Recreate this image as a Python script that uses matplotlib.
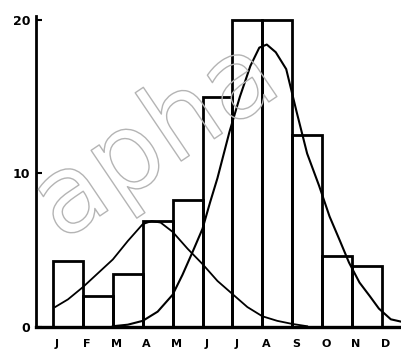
import matplotlib.pyplot as plt
import matplotlib.patheffects as pe

months = ['J', 'F', 'M', 'A', 'M', 'J', 'J', 'A', 'S', 'O', 'N', 'D']
# monthly counts (no bar for December)
counts = [4.3, 2.0, 3.45, 6.9, 8.3, 15.0, 20.0, 20.0, 12.5, 4.6, 4.0]

# first fitted curve (spring peak)
c1_x = [0.07, 0.5, 1.0, 1.5, 2.0, 2.5, 3.0, 3.3, 3.6, 4.0, 4.5, 5.0, 5.5,
        6.0, 6.5, 7.0, 7.5, 8.0, 8.5]
c1_y = [1.3, 1.8, 2.6, 3.5, 4.4, 5.6, 6.7, 6.9, 6.8, 6.2, 5.1, 4.1, 3.0,
        2.15, 1.3, 0.7, 0.4, 0.2, 0.05]

# second fitted curve (summer peak)
c2_x = [2.0, 2.5, 3.0, 3.5, 4.0, 4.33, 4.67, 5.0, 5.25, 5.5, 5.9, 6.25, 6.6,
        6.9, 7.15, 7.45, 7.8, 8.15, 8.5, 8.9, 9.25, 9.6, 9.9, 10.25, 10.6,
        10.9, 11.3, 11.64]
c2_y = [0.05, 0.15, 0.4, 1.0, 2.1, 3.4, 4.9, 6.4, 8.1, 9.7, 12.7, 15.0, 17.0,
        18.2, 18.4, 17.9, 16.8, 14.0, 11.3, 9.2, 7.2, 5.6, 4.2, 2.9, 2.0,
        1.2, 0.5, 0.35]

fig = plt.figure(figsize=(4.01, 3.54), dpi=100)
ax = fig.add_axes([0.0898, 0.0763, 0.9102, 0.8785])

# faint outlined watermark behind the chart
fig.text(0.39, 0.60, 'apha', fontsize=78, family='DejaVu Sans',
         rotation=34, ha='center', va='center', rotation_mode='anchor',
         color='none', zorder=0,
         path_effects=[pe.Stroke(linewidth=1.0, foreground='#b4b4b4')])
ax.patch.set_alpha(0)

ax.bar(range(len(counts)), counts, width=1.0, align='edge', fill=False,
       edgecolor='black', linewidth=2.0, zorder=2)
ax.plot(c1_x, c1_y, color='black', linewidth=1.3, zorder=3)
ax.plot(c2_x, c2_y, color='black', linewidth=1.5, zorder=3)

ax.set_xlim(-0.57, 11.64)
ax.set_ylim(0, 20.26)

ax.spines['top'].set_visible(False)
ax.spines['right'].set_visible(False)
ax.spines['left'].set_linewidth(2.0)
ax.spines['bottom'].set_linewidth(2.4)

ax.set_xticks([i + 0.13 for i in range(12)])
ax.set_xticklabels(months, fontsize=8, fontweight='bold')
ax.tick_params(axis='x', length=0, pad=9)

ax.set_yticks([0, 10, 20])
ax.set_yticklabels(['0', '10', '20'], fontsize=9, fontweight='bold')
ax.tick_params(axis='y', direction='in', length=4, width=1.5, pad=4)

fig.savefig('out.png', dpi=100)
